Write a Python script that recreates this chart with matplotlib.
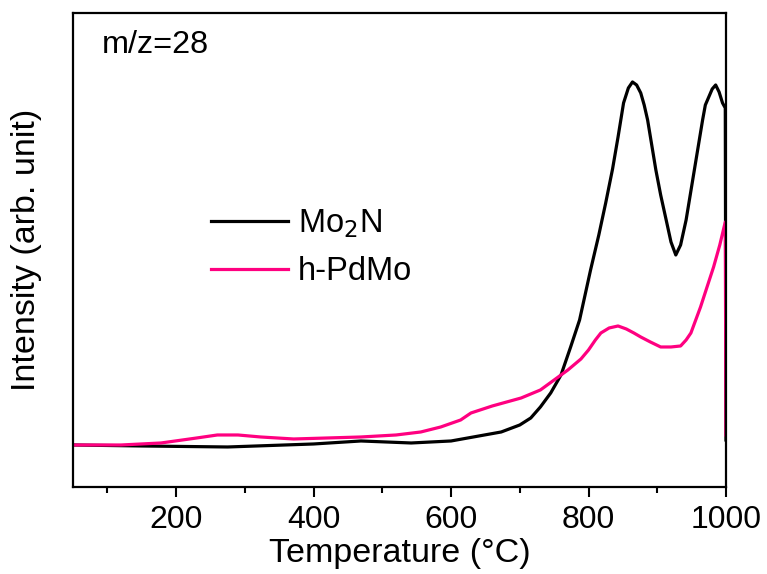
import matplotlib
matplotlib.use("Agg")
import matplotlib.pyplot as plt
from matplotlib.ticker import MultipleLocator

plt.rcParams['font.family'] = ['Liberation Sans', 'DejaVu Sans']

# Temperatures (°C) and intensities (arb. units)
temp_mo2n = [50, 150, 275, 400, 469, 542, 600, 673, 700, 716, 730, 745, 760, 774, 787,
             803, 815, 825, 835, 843, 851, 858, 864, 870, 876, 881, 886, 892, 898,
             905, 913, 920, 927, 934, 942, 948, 954, 960, 966, 970, 975, 980, 985,
             990, 995, 999, 1000]
int_mo2n = [42, 41, 40, 43, 46, 44, 46, 55, 62, 69, 80, 94, 112, 140, 167,
            217, 252, 284, 318, 350, 384, 399, 405, 402, 394, 382, 367, 342, 317,
            292, 267, 245, 232, 242, 267, 292, 317, 342, 367, 382, 390, 398, 402,
            395, 384, 379, 47]

temp_pdmo = [50, 120, 178, 230, 260, 290, 323, 371, 420, 469, 520, 556, 585, 614,
             629, 660, 702, 730, 750, 770, 789, 800, 810, 818, 830, 843, 855, 866,
             876, 890, 905, 920, 934, 942, 949, 956, 963, 972, 982, 991, 999, 1000]
int_pdmo = [42, 42, 44, 49, 52, 52, 50, 48, 49, 50, 52, 55, 60, 67,
            74, 81, 89, 97, 107, 117, 128, 137, 147, 154, 159, 161, 158, 154,
            150, 145, 140, 140, 141, 147, 154, 167, 180, 199, 220, 242, 265, 52]

series_labels = ['Mo$_2$N', 'h-PdMo']
x_ticks = [200, 400, 600, 800, 1000]

fig = plt.figure(figsize=(7.67, 5.74), dpi=100)
ax = fig.add_axes([0.0952, 0.1516, 0.8513, 0.8258])

ax.plot(temp_mo2n, int_mo2n, color='black', lw=2.3, label=series_labels[0])
ax.plot(temp_pdmo, int_pdmo, color='#ff0080', lw=2.3, label=series_labels[1])

ax.set_xlim(50, 1000)
ax.set_ylim(0, 474)
ax.set_xticks(x_ticks)
ax.xaxis.set_minor_locator(MultipleLocator(100))
ax.set_yticks([])
ax.tick_params(axis='x', which='major', direction='out', length=7, width=1.5,
               labelsize=23, top=False, pad=6)
ax.tick_params(axis='x', which='minor', direction='out', length=4, width=1.5, top=False)
for s in ax.spines.values():
    s.set_linewidth(1.6)

ax.set_xlabel('Temperature (°C)', fontsize=24.5, labelpad=2)
ax.set_ylabel('Intensity (arb. unit)', fontsize=24.5, labelpad=22)

ax.text(0.044, 0.932, 'm/z=28', transform=ax.transAxes, fontsize=23.3,
        va='center', ha='left')

leg = ax.legend(loc='upper left', bbox_to_anchor=(0.212, 0.59), frameon=False,
                fontsize=23.5, handlelength=2.35, handletextpad=0.3,
                labelspacing=0.5, borderpad=0, borderaxespad=0)

fig.savefig('out.png', dpi=100)
